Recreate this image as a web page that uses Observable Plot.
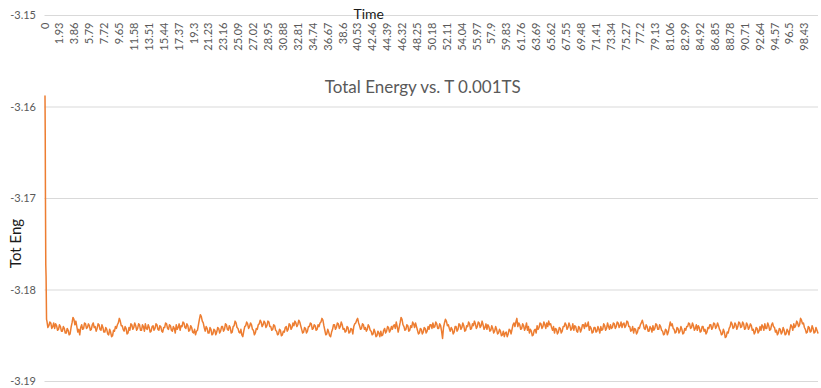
<!DOCTYPE html>
<html><head><meta charset="utf-8">
<script src="https://cdn.jsdelivr.net/npm/d3@7"></script>
<script src="https://cdn.jsdelivr.net/npm/@observablehq/plot@0.6"></script>
<style>body{margin:0;background:#fff}</style>
</head><body><div id="chart"></div>
<script>
const title = "Total Energy vs. T 0.001TS";
const xLabel = "Time";
const yLabel = "Tot Eng";
const startTime = [0, 0.03, 0.06, 0.1, 0.14, 0.2];
const startEnergy = [-3.1588, -3.1630, -3.1700, -3.1772, -3.1785, -3.1832];
const sampleStep = 0.25;
// samples read at t = 0.25, 0.5, ...
const energy = [
-3.1834,-3.1839,-3.1836,-3.1840,-3.1842,-3.1839,-3.1843,-3.1840,
-3.1845,-3.1842,-3.1847,-3.1844,-3.1848,-3.1836,-3.1832,-3.1834,
-3.1846,-3.1849,
-3.1838,-3.1842,-3.1837,-3.1841,-3.1839,-3.1843,-3.1836,-3.1840,-3.1842,-3.1838,
-3.1844,-3.1841,-3.1846,-3.1843,-3.1849,-3.1846,-3.1850,-3.1845,-3.1842,
-3.1836,-3.1834,-3.1839,-3.1845,-3.1842,-3.1847,-3.1844,-3.1838,-3.1841,-3.1839,
-3.1842,-3.1838,-3.1844,-3.1840,-3.1837,-3.1843,-3.1841,-3.1845,-3.1839,-3.1842,
-3.1838,-3.1844,-3.1840,-3.1846,-3.1841,-3.1837,-3.1843,-3.1839,-3.1845,-3.1842,
-3.1838,-3.1841,-3.1844,-3.1840,-3.1836,-3.1842,-3.1839,-3.1844,-3.1841,
-3.1847,-3.1849,-3.1844,-3.1832,-3.1829,-3.1836,
-3.1845,-3.1842,-3.1847,-3.1843,-3.1848,-3.1844,-3.1846,-3.1842,-3.1845,
-3.1840,-3.1843,-3.1838,-3.1844,-3.1841,-3.1846,-3.1839,-3.1836,
-3.1842,-3.1847,-3.1849,-3.1845,-3.1839,-3.1837,-3.1840,-3.1838,
-3.1844,-3.1847,-3.1843,-3.1837,-3.1835,-3.1838,-3.1836,-3.1839,-3.1835,
-3.1840,-3.1843,-3.1839,-3.1845,-3.1848,-3.1844,-3.1849,-3.1846,
-3.1840,-3.1843,-3.1838,-3.1841,-3.1839,-3.1836,-3.1838,-3.1835,
-3.1843,-3.1846,-3.1842,-3.1845,-3.1840,-3.1837,-3.1842,-3.1839,-3.1843,-3.1840,
-3.1835,-3.1833,-3.1844,-3.1848,-3.1846,-3.1851,
-3.1843,-3.1838,-3.1841,-3.1837,-3.1840,-3.1838,-3.1842,
-3.1845,-3.1841,-3.1846,-3.1843,-3.1840,-3.1836,-3.1831,
-3.1839,-3.1842,-3.1838,-3.1841,-3.1843,-3.1840,
-3.1845,-3.1848,-3.1846,-3.1850,-3.1847,-3.1845,-3.1849,
-3.1842,-3.1845,-3.1841,-3.1844,-3.1843,-3.1838,-3.1835,-3.1846,-3.1836,-3.1832,
-3.1840,-3.1843,-3.1839,-3.1844,-3.1841,-3.1837,-3.1836,
-3.1844,-3.1847,-3.1843,-3.1846,-3.1842,-3.1845,-3.1843,
-3.1838,-3.1836,-3.1840,-3.1837,-3.1842,-3.1839,-3.1853,
-3.1836,-3.1834,-3.1838,-3.1845,-3.1843,-3.1846,
-3.1840,-3.1843,-3.1838,-3.1841,-3.1839,-3.1844,-3.1840,-3.1837,-3.1842,-3.1839,
-3.1837,-3.1840,-3.1836,-3.1839,-3.1838,-3.1841,
-3.1843,-3.1840,-3.1844,-3.1842,-3.1845,
-3.1843,-3.1847,-3.1845,-3.1849,-3.1851,-3.1846,-3.1848,-3.1844,-3.1843,
-3.1836,-3.1835,-3.1840,-3.1838,-3.1842,-3.1839,-3.1841,-3.1844,
-3.1847,-3.1845,-3.1849,-3.1843,-3.1839,-3.1841,-3.1837,-3.1840,-3.1838,-3.1836,
-3.1834,-3.1837,-3.1844,-3.1847,-3.1843,-3.1846,-3.1842,-3.1845,
-3.1840,-3.1838,-3.1841,-3.1839,-3.1842,-3.1844,-3.1840,-3.1846,-3.1841,-3.1843,
-3.1838,-3.1836,-3.1839,-3.1844,-3.1842,-3.1846,-3.1841,-3.1845,-3.1843,
-3.1840,-3.1843,-3.1839,-3.1842,-3.1840,
-3.1838,-3.1841,-3.1837,-3.1840,-3.1836,-3.1839,-3.1841,
-3.1836,-3.1839,-3.1835,-3.1840,-3.1844,-3.1847,-3.1843,-3.1846,-3.1842,
-3.1836,-3.1837,-3.1843,-3.1840,-3.1845,-3.1842,
-3.1839,-3.1842,-3.1838,-3.1843,-3.1840,-3.1845,-3.1848,-3.1844,-3.1846,
-3.1835,-3.1837,-3.1843,-3.1846,-3.1842,-3.1845,-3.1843,-3.1847,-3.1844,
-3.1840,-3.1837,-3.1841,-3.1839,-3.1842,
-3.1844,-3.1841,-3.1845,-3.1840,-3.1843,-3.1846,-3.1842,
-3.1838,-3.1841,-3.1837,-3.1840,-3.1839,
-3.1845,-3.1848,-3.1846,-3.1851,-3.1847,
-3.1840,-3.1837,-3.1841,-3.1838,-3.1840,
-3.1836,-3.1840,-3.1837,-3.1842,-3.1838,-3.1841,-3.1839,
-3.1843,-3.1846,-3.1842,-3.1845,-3.1844,
-3.1840,-3.1837,-3.1842,-3.1839,-3.1843,-3.1836,-3.1841,
-3.1844,-3.1847,-3.1843,-3.1846,-3.1844,-3.1848,-3.1845,-3.1843,
-3.1840,-3.1837,-3.1839,-3.1836,-3.1838,-3.1833,-3.1836,
-3.1843,-3.1846,-3.1841,-3.1845,-3.1842,-3.1846,-3.1844
];
// samples read half a step later (t = 0.375, 0.625, ...)
const energyAlt = [
-3.1841,-3.1835,-3.1842,-3.1836,-3.1837,-3.1844,-3.1838,-3.1845,
-3.1840,-3.1847,-3.1842,-3.1849,-3.1841,-3.1830,-3.1838,-3.1840,
-3.1843,-3.1841,
-3.1843,-3.1836,-3.1842,-3.1837,-3.1844,-3.1838,-3.1841,-3.1845,-3.1837,-3.1843,
-3.1838,-3.1846,-3.1841,-3.1848,-3.1843,-3.1851,-3.1844,-3.1840,-3.1838,
-3.1831,-3.1839,-3.1843,-3.1840,-3.1848,-3.1841,-3.1837,-3.1843,-3.1836,-3.1844,
-3.1837,-3.1844,-3.1838,-3.1845,-3.1842,-3.1838,-3.1846,-3.1840,-3.1844,-3.1837,
-3.1843,-3.1839,-3.1845,-3.1841,-3.1836,-3.1842,-3.1838,-3.1844,-3.1840,-3.1847,
-3.1843,-3.1837,-3.1839,-3.1835,-3.1841,-3.1837,-3.1845,-3.1839,-3.1846,
-3.1843,-3.1845,-3.1838,-3.1827,-3.1834,-3.1841,
-3.1840,-3.1847,-3.1841,-3.1849,-3.1843,-3.1849,-3.1841,-3.1847,-3.1840,
-3.1845,-3.1837,-3.1843,-3.1839,-3.1847,-3.1840,-3.1834,-3.1841,
-3.1846,-3.1843,-3.1851,-3.1840,-3.1835,-3.1842,-3.1836,-3.1843,
-3.1849,-3.1842,-3.1838,-3.1833,-3.1840,-3.1834,-3.1841,-3.1834,-3.1840,
-3.1844,-3.1838,-3.1844,-3.1849,-3.1843,-3.1850,-3.1845,-3.1841,
-3.1845,-3.1837,-3.1843,-3.1836,-3.1834,-3.1840,-3.1833,-3.1839,
-3.1847,-3.1841,-3.1847,-3.1840,-3.1836,-3.1843,-3.1838,-3.1844,-3.1838,-3.1836,
-3.1831,-3.1839,-3.1849,-3.1843,-3.1850,-3.1846,
-3.1838,-3.1843,-3.1836,-3.1842,-3.1835,-3.1843,-3.1846,
-3.1840,-3.1847,-3.1842,-3.1848,-3.1837,-3.1833,-3.1836,
-3.1843,-3.1837,-3.1843,-3.1845,-3.1838,-3.1844,
-3.1849,-3.1843,-3.1851,-3.1845,-3.1851,-3.1850,-3.1844,
-3.1847,-3.1840,-3.1846,-3.1840,-3.1839,-3.1842,-3.1840,-3.1841,-3.1830,-3.1838,
-3.1844,-3.1838,-3.1845,-3.1839,-3.1835,-3.1841,-3.1840,
-3.1848,-3.1842,-3.1848,-3.1841,-3.1847,-3.1840,-3.1838,
-3.1842,-3.1841,-3.1835,-3.1842,-3.1837,-3.1845,-3.1841,
-3.1832,-3.1839,-3.1842,-3.1841,-3.1848,-3.1840,
-3.1845,-3.1837,-3.1843,-3.1836,-3.1845,-3.1839,-3.1835,-3.1843,-3.1837,-3.1834,
-3.1842,-3.1835,-3.1841,-3.1834,-3.1843,-3.1837,
-3.1838,-3.1845,-3.1839,-3.1847,-3.1840,
-3.1848,-3.1843,-3.1850,-3.1845,-3.1847,-3.1851,-3.1843,-3.1848,-3.1838,
-3.1840,-3.1831,-3.1836,-3.1843,-3.1837,-3.1844,-3.1836,-3.1840,
-3.1843,-3.1850,-3.1844,-3.1847,-3.1843,-3.1836,-3.1842,-3.1835,-3.1842,-3.1840,
-3.1838,-3.1841,-3.1840,-3.1842,-3.1848,-3.1841,-3.1847,-3.1840,
-3.1836,-3.1843,-3.1836,-3.1844,-3.1837,-3.1839,-3.1845,-3.1840,-3.1846,-3.1838,
-3.1842,-3.1840,-3.1835,-3.1840,-3.1847,-3.1841,-3.1846,-3.1840,-3.1847,
-3.1844,-3.1837,-3.1844,-3.1836,-3.1843,
-3.1842,-3.1836,-3.1842,-3.1835,-3.1841,-3.1835,-3.1837,
-3.1841,-3.1834,-3.1840,-3.1845,-3.1840,-3.1842,-3.1848,-3.1841,-3.1838,
-3.1833,-3.1842,-3.1838,-3.1845,-3.1840,-3.1846,
-3.1844,-3.1837,-3.1843,-3.1838,-3.1844,-3.1849,-3.1843,-3.1849,-3.1840,
-3.1839,-3.1842,-3.1847,-3.1841,-3.1847,-3.1840,-3.1848,-3.1842,-3.1840,
-3.1836,-3.1842,-3.1836,-3.1844,-3.1838,
-3.1839,-3.1846,-3.1840,-3.1845,-3.1848,-3.1841,-3.1838,
-3.1843,-3.1836,-3.1842,-3.1836,-3.1843,
-3.1849,-3.1843,-3.1852,-3.1846,-3.1842,
-3.1835,-3.1842,-3.1836,-3.1843,-3.1835,
-3.1841,-3.1835,-3.1843,-3.1836,-3.1843,-3.1837,-3.1844,
-3.1848,-3.1841,-3.1847,-3.1840,-3.1838,
-3.1844,-3.1842,-3.1836,-3.1844,-3.1838,-3.1840,-3.1846,
-3.1849,-3.1842,-3.1848,-3.1841,-3.1849,-3.1843,-3.1849,-3.1838,
-3.1844,-3.1841,-3.1834,-3.1840,-3.1831,-3.1837,-3.1841,
-3.1847,-3.1840,-3.1846,-3.1839,-3.1847,-3.1841,-3.1847
];
const xTickLabels = ["0","1.93","3.86","5.79","7.72","9.65","11.58","13.51","15.44","17.37","19.3","21.23","23.16","25.09","27.02","28.95","30.88","32.81","34.74","36.67","38.6","40.53","42.46","44.39","46.32","48.25","50.18","52.11","54.04","55.97","57.9","59.83","61.76","63.69","65.62","67.55","69.48","71.41","73.34","75.27","77.2","79.13","81.06","82.99","84.92","86.85","88.78","90.71","92.64","94.57","96.5","98.43"];
const yTicks = [-3.15, -3.16, -3.17, -3.18, -3.19];
const xDomain = [0, 100.2];
const yDomain = [-3.19, -3.15];

const data = startTime.map((t, i) => ({t, e: startEnergy[i]}));
energy.forEach((e, i) => {
  const t = sampleStep * (i + 1);
  data.push({t, e});
  if (energyAlt[i] !== undefined) data.push({t: t + sampleStep / 2, e: energyAlt[i]});
});
const ticks = xTickLabels.map(s => ({t: +s, label: s}));

const chart = Plot.plot({
  width: 821, height: 388,
  marginLeft: 44.5, marginRight: 3, marginTop: 15, marginBottom: 7,
  x: {domain: xDomain, axis: null},
  y: {domain: yDomain, axis: null},
  style: {fontFamily: "Lato, 'Open Sans', sans-serif", background: "#fff", overflow: "visible"},
  marks: [
    Plot.gridY(yTicks, {stroke: "#d9d9d9", strokeOpacity: 1}),
    Plot.axisY(yTicks, {tickSize: 0, tickPadding: 9, tickFormat: d => d.toFixed(2), fill: "#595959", fontSize: 11, label: null}),
    Plot.text(ticks, {x: "t", text: "label", frameAnchor: "top", dy: 7, rotate: -90, textAnchor: "end", lineAnchor: "middle", fill: "#595959", fontSize: 11}),
    Plot.line(data, {x: "t", y: "e", stroke: "#ED7D31", strokeWidth: 1.5}),
    Plot.text([title], {text: d => d, frameAnchor: "top", dx: -9, dy: 72, lineAnchor: "middle", fontSize: 17, fill: "#595959"}),
    Plot.text([xLabel], {text: d => d, frameAnchor: "top", dx: -63, dy: -1, lineAnchor: "middle", fontSize: 14, fill: "#1a1a1a"}),
    Plot.text([yLabel], {text: d => d, frameAnchor: "left", rotate: -90, textAnchor: "middle", lineAnchor: "middle", dx: -29, dy: 45, fontSize: 15, fill: "#1a1a1a"})
  ]
});
document.getElementById("chart").appendChild(chart);
</script>
</body></html>
